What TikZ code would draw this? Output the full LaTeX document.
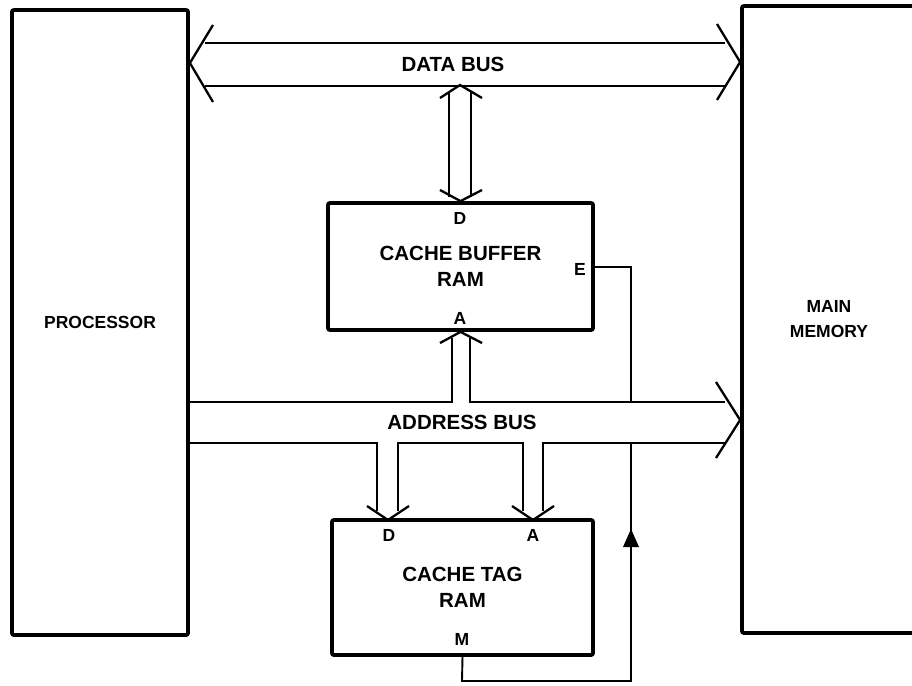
\documentclass[tikz,border=0pt]{standalone}
\usepackage{fontspec}
\setmainfont{Liberation Sans}
\usepackage{tikz}
\usetikzlibrary{positioning}

\newcommand{\lbl}{\fontsize{17.5}{25}\selectfont\bfseries}
\newcommand{\biglbl}{\fontsize{20.5}{26}\selectfont\bfseries}

\begin{document}
\begin{tikzpicture}[
    x=1pt, y=-1pt,
    box/.style={draw, line width=3.8pt, rounded corners=2pt, inner sep=0pt, align=center, font=\lbl},
    bus/.style={line width=2pt},
    chev/.style={line width=2.3pt, line join=miter},
    sig/.style={line width=1.9pt},
    pin/.style={font=\lbl, inner sep=0pt},
]
\useasboundingbox (0,0) rectangle (912,685);

% ========== Blocks ==========
\node[box, minimum width=176pt, minimum height=625pt] (proc) at (100,322.5) {PROCESSOR};
\node[box, minimum width=174pt, minimum height=627pt] (mem) at (829,319.5) {MAIN\\MEMORY};
\node[box, font=\biglbl, minimum width=265pt, minimum height=127pt] (cbuf) at (460.5,266.5) {CACHE BUFFER\\RAM};
\node[box, font=\biglbl, minimum width=261pt, minimum height=135pt] (ctag) at (462.5,587.5) {CACHE TAG\\RAM};

% pin letters
\node[pin] (cbufD) at (460,218) {D};
\node[pin] (cbufA) at (460,318) {A};
\node[pin] (cbufE) at (580,269) {E};
\node[pin] (ctagD) at (389,535) {D};
\node[pin] (ctagA) at (533,535) {A};
\node[pin] (ctagM) at (462,639) {M};

% ========== Data bus ==========
\draw[bus] (205,43) -- (725,43) (205,86) -- (725,86);
\draw[chev] (213,25) -- (proc.east |- 0,63) -- (213,102);
\draw[chev] (717,24) -- (mem.west |- 0,62) -- (717,100);
\node[font=\biglbl] (dbus) at (453,64) {DATA BUS};

% data bus <-> buffer D
\draw[bus] (449,92) -- (449,197) (471,92) -- (471,197);
\draw[chev] (440,98) -- (460,85) -- (482,98);
\draw[chev] (440,190) -- (cbuf.north) -- (482,190);

% ========== Address bus ==========
\draw[bus] (proc.east |- 0,402) -- (452,402) -- (452,338);
\draw[bus] (470,338) -- (470,402) -- (725,402);
\draw[bus] (proc.east |- 0,443) -- (377,443) -- (377,511);
\draw[bus] (398,511) -- (398,443) -- (523,443) -- (523,511);
\draw[bus] (543,511) -- (543,443) -- (725,443);
\draw[chev] (716,382) -- (mem.west |- 0,420) -- (716,458);
\node[font=\biglbl] (abus) at (462,422) {ADDRESS BUS};

% address bus -> buffer A, tag D, tag A
\draw[chev] (440,343) -- (cbuf.south) -- (482,343);
\foreach \x in {388,533} {
    \draw[chev] (\x-21,506) -- (\x,520) -- (\x+21,506);
}

% ========== Enable / match line ==========
\draw[sig] (cbuf.east |- 0,267) -- (631,267) -- (631,402);
\draw[sig] (ctag.south) -- (462,681) -- (631,681) -- (631,443);
\fill (631,529) -- (623,547) -- (639,547) -- cycle;

\end{tikzpicture}
\end{document}
